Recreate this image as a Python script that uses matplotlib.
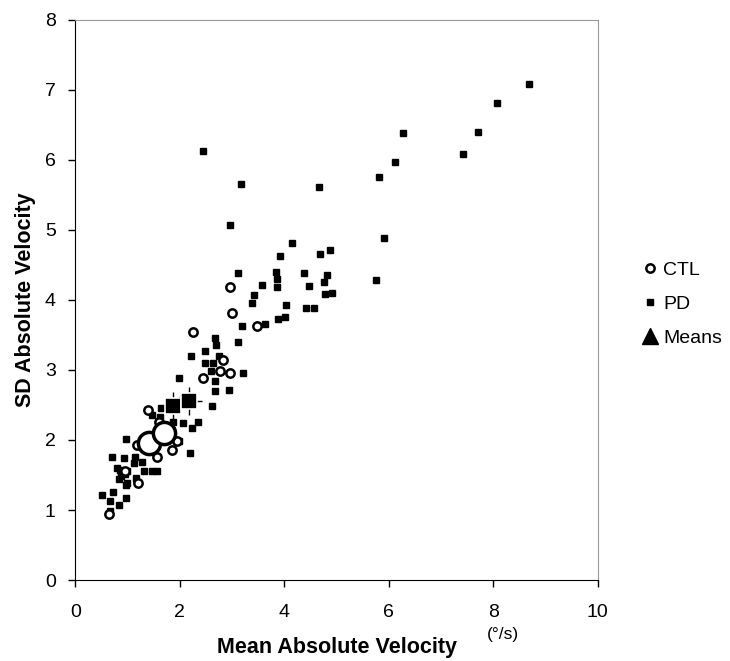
import matplotlib
matplotlib.use('Agg')
from matplotlib import pyplot as plt
from matplotlib.lines import Line2D

plt.rcParams['font.family'] = ['Liberation Sans', 'DejaVu Sans']

# Control subjects: mean vs SD of absolute velocity
ctl_x = [2.97, 3.00, 2.26, 3.47, 2.82, 2.96, 2.77, 2.45, 1.40, 1.18, 1.85, 1.94,
         1.56, 1.20, 0.64, 2.05, 1.60, 0.95]
ctl_y = [4.18, 3.82, 3.54, 3.63, 3.14, 2.95, 2.98, 2.88, 2.43, 1.93, 1.86, 1.98,
         1.75, 1.38, 0.95, 2.55, 2.25, 1.55]

# Parkinson's patients
pd_x = [8.69, 8.07, 7.70, 7.42, 6.28, 6.11, 5.81, 4.67, 5.90, 5.76, 4.14, 3.91,
        3.84, 3.87, 3.86, 4.37, 4.68, 4.87, 4.81, 4.76, 4.47, 4.78, 4.91, 4.03,
        4.41, 4.56, 3.58, 2.45, 3.17, 2.97, 3.12, 3.43, 3.39, 4.02, 3.88, 3.64,
        3.19, 2.68, 2.69, 3.11, 2.49, 2.21, 2.75, 2.63, 2.48, 2.59, 3.21, 1.99,
        2.68, 2.94, 2.68, 2.61, 1.64, 2.20, 2.35, 1.87, 2.06, 2.23, 1.62, 1.47,
        1.98, 0.98, 0.71, 0.94, 1.15, 1.12, 1.27, 1.32, 1.46, 1.56, 0.99, 0.85,
        0.80, 0.96, 0.88, 1.16, 0.83, 0.98, 1.00, 0.51, 0.73, 0.67, 0.84, 0.98,
        0.66]
pd_y = [7.09, 6.81, 6.40, 6.08, 6.38, 5.97, 5.76, 5.61, 4.88, 4.29, 4.81, 4.63,
        4.40, 4.30, 4.18, 4.39, 4.66, 4.71, 4.35, 4.25, 4.20, 4.09, 4.10, 3.93,
        3.89, 3.89, 4.21, 6.13, 5.66, 5.07, 4.38, 4.07, 3.96, 3.76, 3.73, 3.65,
        3.63, 3.45, 3.35, 3.40, 3.27, 3.20, 3.20, 3.10, 3.10, 2.99, 2.95, 2.89,
        2.84, 2.71, 2.70, 2.49, 2.45, 1.81, 2.25, 2.25, 2.24, 2.17, 2.33, 2.36,
        1.99, 2.02, 1.75, 1.74, 1.76, 1.67, 1.69, 1.56, 1.56, 1.55, 1.55, 1.57,
        1.60, 1.52, 1.48, 1.46, 1.44, 1.36, 1.38, 1.21, 1.25, 1.13, 1.07, 1.17,
        0.99]

# Group means (two conditions each)
ctl_mean_x = [1.42, 1.70]
ctl_mean_y = [1.95, 2.10]
pd_mean_x = [1.88, 2.17]
pd_mean_y = [2.48, 2.56]

fig = plt.figure(figsize=(7.3, 6.61), dpi=100)
ax = fig.add_axes([0.103, 0.1225, 0.716, 0.8475])

ax.plot(pd_x, pd_y, 's', ms=4.2, mfc='black', mec='black', ls='none', zorder=3)
ax.plot(ctl_x, ctl_y, 'o', ms=6, mfc='white', mec='black', mew=1.8, ls='none', zorder=4)
ax.errorbar(pd_mean_x, pd_mean_y, xerr=0.25, yerr=0.2, fmt='none',
            ecolor='black', elinewidth=1, zorder=5)
ax.plot(pd_mean_x, pd_mean_y, 's', ms=12, mfc='black', mec='white', mew=1.2,
        ls='none', zorder=6)
ax.plot(ctl_mean_x, ctl_mean_y, 'o', ms=16, mfc='white', mec='black', mew=2.5,
        ls='none', zorder=6)

ax.set_xlim(0, 10)
ax.set_ylim(0, 8)
ax.set_xticks(range(0, 11, 2))
ax.set_yticks(range(0, 9))
ax.tick_params(axis='both', which='major', labelsize=14, direction='out',
               length=5, width=1)
ax.tick_params(axis='x', pad=12)
ax.tick_params(axis='y', pad=9)
for side in ['top', 'right']:
    ax.spines[side].set_color('#999999')
for side in ['left', 'bottom']:
    ax.spines[side].set_color('black')

ax.set_xlabel('Mean Absolute Velocity', fontsize=15.5, fontweight='bold', labelpad=12)
ax.set_ylabel('SD Absolute Velocity', fontsize=15.5, fontweight='bold', labelpad=6)
fig.text(0.667, 0.033, '(°/s)', fontsize=12.5)

handles = [
    Line2D([], [], marker='o', ls='none', ms=6, mfc='white', mec='black', mew=1.8),
    Line2D([], [], marker='s', ls='none', ms=4, mfc='black', mec='black'),
    Line2D([], [], marker='^', ls='none', ms=12, mfc='black', mec='black'),
]
fig.legend(handles, ['CTL', 'PD', 'Means'], loc='center left',
           bbox_to_anchor=(0.85, 0.54), frameon=False, fontsize=14,
           handletextpad=0.1, labelspacing=0.85, handlelength=1.2)

plt.savefig('out.png', dpi=100)
